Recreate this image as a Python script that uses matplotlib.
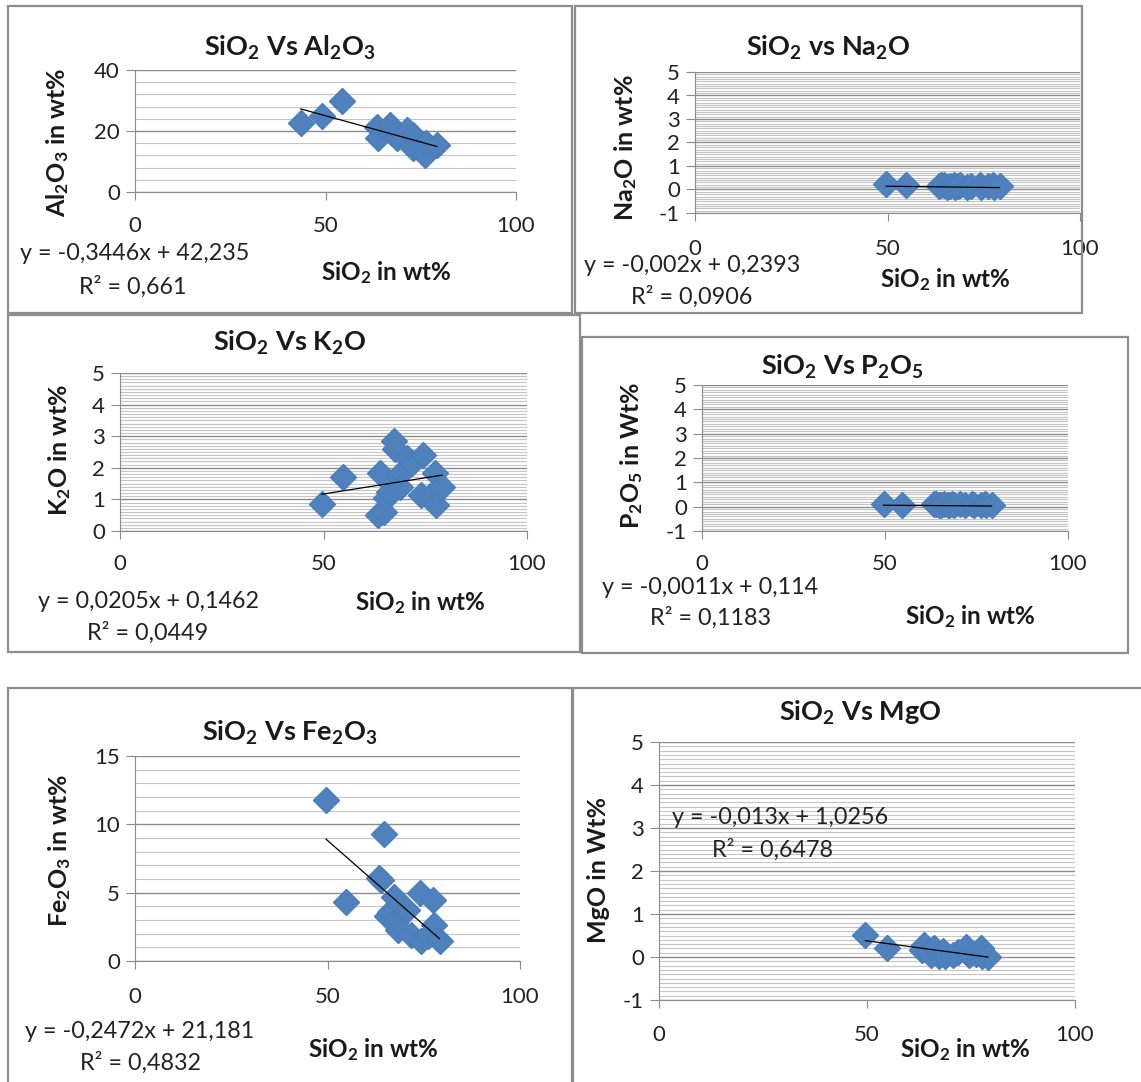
import matplotlib.pyplot as plt
import numpy as np
from matplotlib.ticker import MultipleLocator
from matplotlib.patches import Rectangle

W, H = 1141, 1082
plt.rcParams['font.family'] = ['Lato', 'DejaVu Sans']
plt.rcParams['mathtext.fontset'] = 'custom'
plt.rcParams['mathtext.rm'] = 'Lato'
plt.rcParams['mathtext.bf'] = 'Lato:bold'
plt.rcParams['mathtext.it'] = 'Lato:italic'
plt.rcParams['axes.unicode_minus'] = False

# samples (SiO2 in wt%)
sio2 = [49.6, 54.7, 63.3, 63.8, 64.8, 65.4, 66.2, 67.2, 67.6, 68.2,
        68.8, 70.6, 71.8, 73.9, 74.4, 76.2, 77.4, 77.7, 79.1]
fe2o3 = [11.8, 4.35, 6.1, 5.9, 9.3, 3.3, 3.6, 4.7, 2.8, 2.3,
         4.1, 3.7, 1.9, 5.0, 1.5, 1.8, 4.5, 2.6, 1.45]
k2o = [0.85, 1.72, 0.5, 1.82, 0.6, 1.05, 1.25, 2.85, 2.6, 1.75,
       1.4, 2.3, 2.15, 1.15, 2.4, 1.1, 1.82, 0.82, 1.4]
na2o = [0.22, 0.2, 0.15, 0.18, 0.2, 0.12, 0.16, 0.2, 0.1, 0.14,
        0.18, 0.12, 0.16, 0.2, 0.1, 0.15, 0.18, 0.12, 0.15]
p2o5 = [0.09, 0.08, 0.1, 0.12, 0.06, 0.08, 0.1, 0.05, 0.07, 0.11,
        0.06, 0.09, 0.05, 0.1, 0.06, 0.08, 0.1, 0.05, 0.07]
mgo = [0.52, 0.2, 0.16, 0.28, 0.12, 0.05, 0.2, 0.02, 0.1, 0.15,
       0.03, 0.05, 0.12, 0.24, 0.04, 0.08, 0.2, 0.03, 0.01]

sio2_al = [43.5, 49.0, 54.2, 63.4, 63.9, 66.9, 67.4, 68.7, 71.3, 73.0,
           73.0, 74.4, 76.1, 76.4, 79.2]
al2o3 = [22.7, 24.9, 29.9, 21.4, 17.6, 22.0, 19.2, 17.6, 20.3, 18.7,
         14.3, 16.5, 12.1, 16.0, 15.4]

# trend lines (slope, intercept) as printed on the charts
fit_al = (-0.3446, 42.235)
fit_na = (-0.002, 0.2393)
fit_k = (0.0205, 0.1462)
fit_p = (-0.0011, 0.114)
fit_fe = (-0.2472, 21.181)
fit_mg = (-0.013, 1.0256)

fig = plt.figure(figsize=(W / 100, H / 100), dpi=100)
PT = 72 / 100  # points per pixel
BLUE = '#4f81bd'
GRID_MAJ = '#8c8c8c'
GRID_MIN = '#c4c4c4'


def fx(x):
    return x / W


def fy(y):
    return 1 - y / H


def box(x0, y0, x1, y1):
    fig.add_artist(Rectangle((fx(x0), fy(y1)), fx(x1) - fx(x0), fy(y0) - fy(y1),
                             fill=False, ec='#8c8c8c', lw=1.6,
                             transform=fig.transFigure))


def panel(x, y, fit, area, ylim, major, minor, xpad, title, tpos,
          ylab, ypos, eq, eqpos, r2, r2pos, xlpos):
    l, t, r, b = area
    ax = fig.add_axes([fx(l), fy(b), fx(r) - fx(l), fy(t) - fy(b)])
    ax.set_xlim(0, 100)
    ax.set_ylim(*ylim)
    ax.set_xticks([0, 50, 100])
    ax.set_yticks(np.arange(ylim[0], ylim[1] + major / 2, major))
    ax.yaxis.set_minor_locator(MultipleLocator(minor))
    ax.grid(which='major', axis='y', color=GRID_MAJ, lw=1.0)
    ax.grid(which='minor', axis='y', color=GRID_MIN, lw=0.8)
    ax.set_axisbelow(True)
    for s in ['top', 'right']:
        ax.spines[s].set_visible(False)
    for s in ['left', 'bottom']:
        ax.spines[s].set_color(GRID_MAJ)
    ax.tick_params(axis='x', length=8 * PT, color=GRID_MAJ, labelsize=16,
                   pad=xpad * PT, labelcolor='#222222')
    ax.tick_params(axis='y', which='major', length=9 * PT, color=GRID_MAJ,
                   labelsize=16, pad=6 * PT, labelcolor='#222222')
    ax.tick_params(axis='y', which='minor', length=0)
    ax.plot(x, y, 'D', ms=13, color=BLUE, mec='#4a7ebb', zorder=3)
    xs = np.array([min(x), max(x)])
    ax.plot(xs, fit[0] * xs + fit[1], color='black', lw=0.9, zorder=4)

    fig.text(fx(tpos[0]), fy(tpos[1]), title, ha='center', va='center',
             fontsize=19.5, fontweight='bold', color='#1a1a1a')
    fig.text(fx(ypos[0]), fy(ypos[1]), ylab, ha='center', va='center',
             rotation=90, fontsize=18, fontweight='bold', color='#1a1a1a')
    fig.text(fx(xlpos[0]), fy(xlpos[1]), r'SiO$_\mathbf{2}$ in wt%',
             ha='center', va='center', fontsize=17.5, fontweight='bold',
             color='#1a1a1a')
    fig.text(fx(eqpos[0]), fy(eqpos[1]), eq, ha='center', va='center',
             fontsize=16.8, color='#222222')
    fig.text(fx(r2pos[0]), fy(r2pos[1]), r2, ha='center', va='center',
             fontsize=16.8, color='#222222')
    return ax


# panel borders
box(8, 6, 572, 313)
box(575, 6, 1082, 313)
box(8, 315, 580, 652)
box(582, 337, 1128, 653)
box(8, 688, 572, 1090)
box(573, 688, 1150, 1090)

panel(sio2_al, al2o3, fit_al, (135, 70, 516, 192), (0, 40), 20, 4, 16,
      r'SiO$_\mathbf{2}$ Vs Al$_\mathbf{2}$O$_\mathbf{3}$', (290, 48),
      r'Al$_\mathbf{2}$O$_\mathbf{3}$ in wt%', (58, 142),
      'y = -0,3446x + 42,235', (135, 254), 'R² = 0,661', (133, 287), (386, 273))

panel(sio2, na2o, fit_na, (695, 72, 1080, 213), (-1, 5), 1, 0.1, 18,
      r'SiO$_\mathbf{2}$ vs Na$_\mathbf{2}$O', (828, 48),
      r'Na$_\mathbf{2}$O in wt%', (626, 148),
      'y = -0,002x + 0,2393', (692, 266), 'R² = 0,0906', (692, 297), (945, 280))

panel(sio2, k2o, fit_k, (120, 373, 527, 531), (0, 5), 1, 0.1, 15,
      r'SiO$_\mathbf{2}$ Vs K$_\mathbf{2}$O', (290, 343),
      r'K$_\mathbf{2}$O in wt%', (60, 450),
      'y = 0,0205x + 0,1462', (148, 601), 'R² = 0,0449', (148, 633), (420, 603))

panel(sio2, p2o5, fit_p, (702, 385, 1068, 531), (-1, 5), 1, 0.1, 15,
      r'SiO$_\mathbf{2}$ Vs P$_\mathbf{2}$O$_\mathbf{5}$', (842, 367),
      r'P$_\mathbf{2}$O$_\mathbf{5}$ in Wt%', (632, 455),
      'y = -0,0011x + 0,114', (710, 587), 'R² = 0,1183', (710, 618), (970, 617))

panel(sio2, fe2o3, fit_fe, (135, 756, 520, 961), (0, 15), 5, 1, 18,
      r'SiO$_\mathbf{2}$ Vs Fe$_\mathbf{2}$O$_\mathbf{3}$', (290, 733),
      r'Fe$_\mathbf{2}$O$_\mathbf{3}$ in wt%', (60, 850),
      'y = -0,2472x + 21,181', (140, 1032), 'R² = 0,4832', (140, 1063), (373, 1050))

panel(sio2, mgo, fit_mg, (659, 742, 1075, 1000), (-1, 5), 1, 0.1, 17,
      r'SiO$_\mathbf{2}$ Vs MgO', (860, 713),
      'MgO in Wt%', (598, 870),
      'y = -0,013x + 1,0256', (780, 818), 'R² = 0,6478', (772, 850), (965, 1050))

fig.savefig('out.png', dpi=100, facecolor='white')
